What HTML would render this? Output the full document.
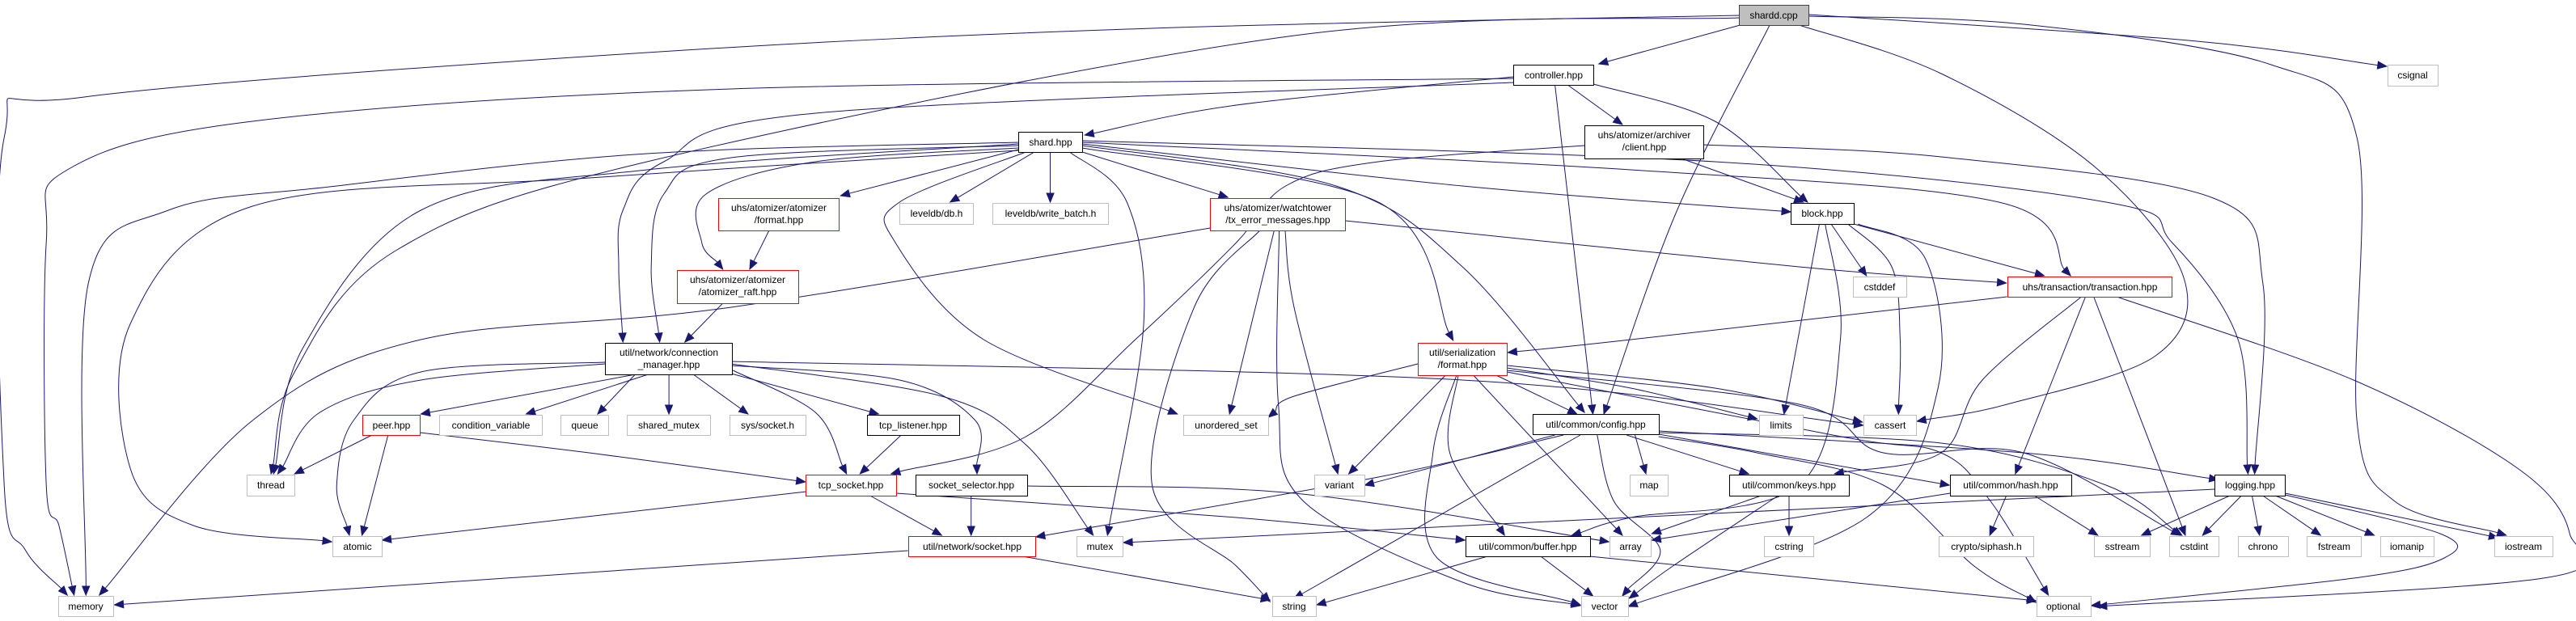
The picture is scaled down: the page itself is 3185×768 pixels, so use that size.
<!DOCTYPE html>
<html><head><meta charset="utf-8"><style>
html,body{margin:0;padding:0;background:#fff;}
svg{display:block;}
text{font-family:"Liberation Sans",Arial,sans-serif;font-size:12px;fill:#000;}
</style></head><body>
<svg id="g" width="3185" height="768" viewBox="0 0 3185 768" xmlns="http://www.w3.org/2000/svg">
<rect width="3185" height="768" fill="#fff"/>
<g id="edges" fill="none" stroke="#191970" stroke-width="1"></g>
<g id="heads" fill="#191970" stroke="#191970"></g>
<g stroke-width="1" fill="#fff">
<rect x="2150.5" y="6.5" width="86" height="25" fill="#bfbfbf" stroke="#404040"/><text x="2193" y="23" text-anchor="middle">shardd.cpp</text>
<rect x="1871.5" y="80.5" width="99" height="25" stroke="#000"/><text x="1921" y="97" text-anchor="middle">controller.hpp</text>
<rect x="1959.5" y="155.5" width="147" height="41" stroke="#000"/><text x="2033" y="171" text-anchor="middle">uhs/atomizer/archiver</text><text x="2033" y="186" text-anchor="middle">/client.hpp</text>
<rect x="1259.5" y="163.5" width="79" height="25" stroke="#000"/><text x="1299" y="180" text-anchor="middle">shard.hpp</text>
<rect x="2214.5" y="251.5" width="78" height="26" stroke="#000"/><text x="2253" y="268" text-anchor="middle">block.hpp</text>
<rect x="888.5" y="245.5" width="149" height="40" stroke="#f00"/><text x="963" y="261" text-anchor="middle">uhs/atomizer/atomizer</text><text x="963" y="276" text-anchor="middle">/format.hpp</text>
<rect x="837.5" y="334.5" width="150" height="41" stroke="#f00"/><text x="912" y="350" text-anchor="middle">uhs/atomizer/atomizer</text><text x="912" y="365" text-anchor="middle">/atomizer_raft.hpp</text>
<rect x="1112.5" y="251.5" width="91" height="26" stroke="#bfbfbf"/><text x="1158" y="268" text-anchor="middle">leveldb/db.h</text>
<rect x="1227.5" y="251.5" width="143" height="26" stroke="#bfbfbf"/><text x="1299" y="268" text-anchor="middle">leveldb/write_batch.h</text>
<rect x="1496.5" y="245.5" width="167" height="40" stroke="#f00"/><text x="1580" y="261" text-anchor="middle">uhs/atomizer/watchtower</text><text x="1580" y="276" text-anchor="middle">/tx_error_messages.hpp</text>
<rect x="748.5" y="424.5" width="157" height="39" stroke="#000"/><text x="827" y="440" text-anchor="middle">util/network/connection</text><text x="827" y="455" text-anchor="middle">_manager.hpp</text>
<rect x="1753.5" y="424.5" width="110" height="40" stroke="#f00"/><text x="1808" y="440" text-anchor="middle">util/serialization</text><text x="1808" y="455" text-anchor="middle">/format.hpp</text>
<rect x="2482.5" y="342.5" width="203" height="25" stroke="#f00"/><text x="2584" y="359" text-anchor="middle">uhs/transaction/transaction.hpp</text>
<rect x="2291.5" y="342.5" width="66" height="25" stroke="#bfbfbf"/><text x="2324" y="359" text-anchor="middle">cstddef</text>
<rect x="448.5" y="513.5" width="71" height="25" stroke="#f00"/><text x="484" y="530" text-anchor="middle">peer.hpp</text>
<rect x="543.5" y="513.5" width="127" height="25" stroke="#bfbfbf"/><text x="607" y="530" text-anchor="middle">condition_variable</text>
<rect x="693.5" y="513.5" width="59" height="25" stroke="#bfbfbf"/><text x="723" y="530" text-anchor="middle">queue</text>
<rect x="775.5" y="513.5" width="103" height="25" stroke="#bfbfbf"/><text x="827" y="530" text-anchor="middle">shared_mutex</text>
<rect x="902.5" y="513.5" width="94" height="25" stroke="#bfbfbf"/><text x="949" y="530" text-anchor="middle">sys/socket.h</text>
<rect x="1072.5" y="513.5" width="114" height="25" stroke="#000"/><text x="1129" y="530" text-anchor="middle">tcp_listener.hpp</text>
<rect x="1463.5" y="513.5" width="105" height="25" stroke="#bfbfbf"/><text x="1516" y="530" text-anchor="middle">unordered_set</text>
<rect x="1895.5" y="512.5" width="156" height="25" stroke="#000"/><text x="1973" y="529" text-anchor="middle">util/common/config.hpp</text>
<rect x="2175.5" y="513.5" width="54" height="25" stroke="#bfbfbf"/><text x="2202" y="530" text-anchor="middle">limits</text>
<rect x="2304.5" y="513.5" width="65" height="25" stroke="#bfbfbf"/><text x="2337" y="530" text-anchor="middle">cassert</text>
<rect x="305.5" y="587.5" width="59" height="26" stroke="#bfbfbf"/><text x="335" y="604" text-anchor="middle">thread</text>
<rect x="996.5" y="587.5" width="112" height="26" stroke="#f00"/><text x="1052" y="604" text-anchor="middle">tcp_socket.hpp</text>
<rect x="1132.5" y="587.5" width="138" height="26" stroke="#000"/><text x="1201" y="604" text-anchor="middle">socket_selector.hpp</text>
<rect x="1625.5" y="587.5" width="62" height="26" stroke="#bfbfbf"/><text x="1656" y="604" text-anchor="middle">variant</text>
<rect x="2015.5" y="587.5" width="47" height="26" stroke="#bfbfbf"/><text x="2039" y="604" text-anchor="middle">map</text>
<rect x="2138.5" y="587.5" width="148" height="26" stroke="#000"/><text x="2212" y="604" text-anchor="middle">util/common/keys.hpp</text>
<rect x="2411.5" y="587.5" width="150" height="26" stroke="#000"/><text x="2486" y="604" text-anchor="middle">util/common/hash.hpp</text>
<rect x="2738.5" y="587.5" width="87" height="26" stroke="#000"/><text x="2782" y="604" text-anchor="middle">logging.hpp</text>
<rect x="411.5" y="663.5" width="61" height="25" stroke="#bfbfbf"/><text x="442" y="680" text-anchor="middle">atomic</text>
<rect x="1123.5" y="663.5" width="157" height="25" stroke="#f00"/><text x="1202" y="680" text-anchor="middle">util/network/socket.hpp</text>
<rect x="1331.5" y="663.5" width="57" height="25" stroke="#bfbfbf"/><text x="1360" y="680" text-anchor="middle">mutex</text>
<rect x="1812.5" y="663.5" width="154" height="25" stroke="#000"/><text x="1889" y="680" text-anchor="middle">util/common/buffer.hpp</text>
<rect x="1990.5" y="663.5" width="51" height="25" stroke="#bfbfbf"/><text x="2016" y="680" text-anchor="middle">array</text>
<rect x="2181.5" y="663.5" width="61" height="25" stroke="#bfbfbf"/><text x="2212" y="680" text-anchor="middle">cstring</text>
<rect x="2397.5" y="663.5" width="117" height="25" stroke="#bfbfbf"/><text x="2456" y="680" text-anchor="middle">crypto/siphash.h</text>
<rect x="2589.5" y="663.5" width="69" height="25" stroke="#bfbfbf"/><text x="2624" y="680" text-anchor="middle">sstream</text>
<rect x="2682.5" y="663.5" width="61" height="25" stroke="#bfbfbf"/><text x="2713" y="680" text-anchor="middle">cstdint</text>
<rect x="2767.5" y="663.5" width="62" height="25" stroke="#bfbfbf"/><text x="2798" y="680" text-anchor="middle">chrono</text>
<rect x="2852.5" y="663.5" width="67" height="25" stroke="#bfbfbf"/><text x="2886" y="680" text-anchor="middle">fstream</text>
<rect x="2943.5" y="663.5" width="66" height="25" stroke="#bfbfbf"/><text x="2976" y="680" text-anchor="middle">iomanip</text>
<rect x="3084.5" y="663.5" width="72" height="25" stroke="#bfbfbf"/><text x="3120" y="680" text-anchor="middle">iostream</text>
<rect x="72.5" y="737.5" width="68" height="25" stroke="#bfbfbf"/><text x="106" y="754" text-anchor="middle">memory</text>
<rect x="1573.5" y="737.5" width="54" height="25" stroke="#bfbfbf"/><text x="1600" y="754" text-anchor="middle">string</text>
<rect x="1955.5" y="737.5" width="58" height="25" stroke="#bfbfbf"/><text x="1984" y="754" text-anchor="middle">vector</text>
<rect x="2518.5" y="737.5" width="67" height="25" stroke="#bfbfbf"/><text x="2551" y="754" text-anchor="middle">optional</text>
<rect x="2952.5" y="80.5" width="62" height="26" stroke="#bfbfbf"/><text x="2983" y="97" text-anchor="middle">csignal</text>
</g>
</svg>
<script>
function fx(x){if(x<784)return x*1.0408;if(x<1584)return 800+(x-800)*1.0408;if(x<2384)return 1600+(x-1600)*1.0408;return 2400+(x-2400)*1.02;}
var E=[
[[2130,31],[1962,79]],
[[2165,31],[2055,260],[1968,512]],
[[2129,19],[1400,35],[800,65],[100,120],[5,170],[5,600],[30,680],[80,736]],
[[2129,22],[1569,44],[800,200],[470,310],[350,460],[322,586]],
[[2200,31],[2400,91],[2586,206],[2694,343],[2660,440],[2480,500],[2340,521]],
[[2211,20],[2500,30],[2800,80],[2904,170],[2904,520],[2950,620],[3085,662]],
[[2211,18],[2700,50],[2940,82]],
[[1861,95],[1500,130],[1320,167]],
[[1925,105],[1990,154]],
[[1956,104],[2100,150],[2210,250]],
[[1910,105],[1955,512]],
[[1861,97],[900,110],[300,150],[80,210],[55,300],[55,600],[70,650],[88,736]],
[[1861,102],[1000,140],[820,200],[740,260],[735,330],[740,423]],
[[2060,196],[2205,250]],
[[1945,180],[1700,200],[1590,230],[1500,300],[1380,420],[1250,540],[1090,586]],
[[2086,179],[2400,194],[2730,245],[2790,350],[2780,586]],
[[1241,185],[1030,242]],
[[1241,183],[1000,200],[870,240],[865,300],[890,333]],
[[1241,180],[900,195],[820,240],[805,330],[815,423]],
[[1260,188],[1160,250]],
[[1279,188],[1279,250]],
[[1302,188],[1370,250],[1390,400],[1347,662]],
[[1250,188],[1100,250],[1095,300],[1200,420],[1430,512]],
[[1317,188],[1490,244]],
[[1241,178],[800,210],[500,260],[360,430],[325,586]],
[[1241,176],[800,190],[400,230],[200,260],[105,350],[102,736]],
[[1241,186],[700,220],[300,255],[155,400],[155,580],[230,650],[394,670]],
[[1317,178],[1800,230],[2190,262]],
[[1317,183],[1700,250],[1789,421]],
[[1317,180],[1650,230],[1800,330],[1945,510]],
[[1317,176],[2000,210],[2470,250],[2557,341]],
[[1317,174],[2100,200],[2600,250],[2680,300],[2760,420],[2772,586]],
[[945,285],[922,333]],
[[890,375],[845,423]],
[[1469,282],[900,380],[500,420],[300,520],[118,736]],
[[1545,285],[1492,512]],
[[1558,285],[1600,380],[1652,586]],
[[1528,285],[1450,380],[1400,600],[1500,700],[1540,744]],
[[1551,285],[1550,500],[1580,620],[1800,720],[1940,749]],
[[1661,273],[2200,330],[2479,350]],
[[755,463],[500,512]],
[[770,463],[625,512]],
[[786,463],[710,512]],
[[826,463],[826,512]],
[[855,463],[920,512]],
[[900,462],[1075,512]],
[[902,458],[1000,510],[1037,586]],
[[900,452],[1100,470],[1190,520],[1192,586]],
[[900,450],[1150,490],[1250,550],[1330,662]],
[[719,450],[500,470],[380,510],[330,586]],
[[719,448],[500,460],[420,520],[400,600],[415,662]],
[[900,447],[1800,470],[2276,526]],
[[442,538],[350,586]],
[[461,538],[430,662]],
[[499,535],[700,560],[988,596]],
[[1102,538],[1053,586]],
[[989,608],[454,668]],
[[1065,613],[1150,662]],
[[1096,610],[1500,640],[1803,668]],
[[1185,613],[1185,662]],
[[1252,601],[1600,610],[1974,670]],
[[1110,681],[136,748]],
[[1246,688],[1540,742]],
[[2238,277],[2280,341]],
[[2224,277],[2182,512]],
[[2258,277],[2310,330],[2320,420],[2318,512]],
[[2265,277],[2525,341]],
[[2270,277],[2350,320],[2365,480],[2280,640],[1997,750]],
[[2231,277],[2249,420],[2200,600],[2000,640],[1930,662]],
[[2480,367],[2000,420],[1854,436]],
[[2570,367],[2450,470],[2400,560],[2242,586]],
[[2575,367],[2490,586]],
[[2585,367],[2696,662]],
[[2613,367],[2900,470],[3100,580],[3162,660],[3130,715],[2590,750]],
[[1840,464],[1936,512]],
[[1853,455],[2000,480],[2150,518]],
[[1853,452],[2100,480],[2275,522]],
[[1747,450],[1600,490],[1538,516]],
[[1780,464],[1665,586]],
[[1793,464],[1765,560],[1770,690],[1940,748]],
[[1795,464],[1785,560],[1850,662]],
[[1813,464],[1990,662]],
[[1853,458],[2200,500],[2300,560],[2500,560],[2690,662]],
[[1853,460],[2250,540],[2400,560],[2460,620],[2530,736]],
[[1910,538],[1684,600]],
[[2005,538],[2018,586]],
[[1995,538],[2140,586]],
[[2033,537],[2410,600]],
[[2033,533],[2500,560],[2736,593]],
[[1960,538],[1980,620],[2035,680],[1990,737]],
[[1940,538],[1600,740]],
[[1920,538],[1700,590],[1262,664]],
[[2033,540],[2150,560],[2300,600],[2440,700],[2515,745]],
[[2033,535],[2400,548],[2600,600],[2692,662]],
[[2732,605],[2000,640],[1366,671]],
[[2155,613],[2025,660]],
[[2188,613],[2188,662]],
[[2175,613],[2050,700],[1998,740]],
[[1893,688],[1955,737]],
[[1830,688],[1627,748]],
[[1951,688],[2515,743]],
[[2479,613],[2459,662]],
[[2513,613],[2590,662]],
[[2411,610],[2025,668]],
[[2750,613],[2643,662]],
[[2764,613],[2717,662]],
[[2777,613],[2786,662]],
[[2790,613],[2860,662]],
[[2805,613],[2925,662]],
[[2817,610],[3075,665]],
[[2817,612],[3005,660],[3010,690],[2900,715],[2582,749]]
];
var NS="http://www.w3.org/2000/svg",eg=document.getElementById("edges"),hg=document.getElementById("heads");
E.forEach(function(e){
 var p=e.map(function(q){return [fx(q[0]),q[1]];});
 var n=p.length,tip=p[n-1],pr=p[n-2];
 var dx=tip[0]-pr[0],dy=tip[1]-pr[1],L=Math.sqrt(dx*dx+dy*dy)||1,ux=dx/L,uy=dy/L,AL=11;
 var base=[tip[0]-ux*AL,tip[1]-uy*AL];
 var pts=p.slice(0,n-1).concat([base]);
 var d="M"+pts[0][0].toFixed(1)+","+pts[0][1].toFixed(1);
 if(pts.length==2){d+="L"+pts[1][0].toFixed(1)+","+pts[1][1].toFixed(1);}
 else{for(var i=0;i<pts.length-1;i++){
  var p0=pts[i>0?i-1:0],p1=pts[i],p2=pts[i+1],p3=pts[i+2<pts.length?i+2:i+1];
  var c1=[p1[0]+(p2[0]-p0[0])/6,p1[1]+(p2[1]-p0[1])/6],c2=[p2[0]-(p3[0]-p1[0])/6,p2[1]-(p3[1]-p1[1])/6];
  d+="C"+c1[0].toFixed(1)+","+c1[1].toFixed(1)+" "+c2[0].toFixed(1)+","+c2[1].toFixed(1)+" "+p2[0].toFixed(1)+","+p2[1].toFixed(1);}}
 var pa=document.createElementNS(NS,"path");pa.setAttribute("d",d);eg.appendChild(pa);
 var w=4.5;var a=document.createElementNS(NS,"polygon");
 a.setAttribute("points",tip[0]+","+tip[1]+" "+(base[0]-uy*w)+","+(base[1]+ux*w)+" "+(base[0]+uy*w)+","+(base[1]-ux*w));
 hg.appendChild(a);
});
</script>
</body></html>
